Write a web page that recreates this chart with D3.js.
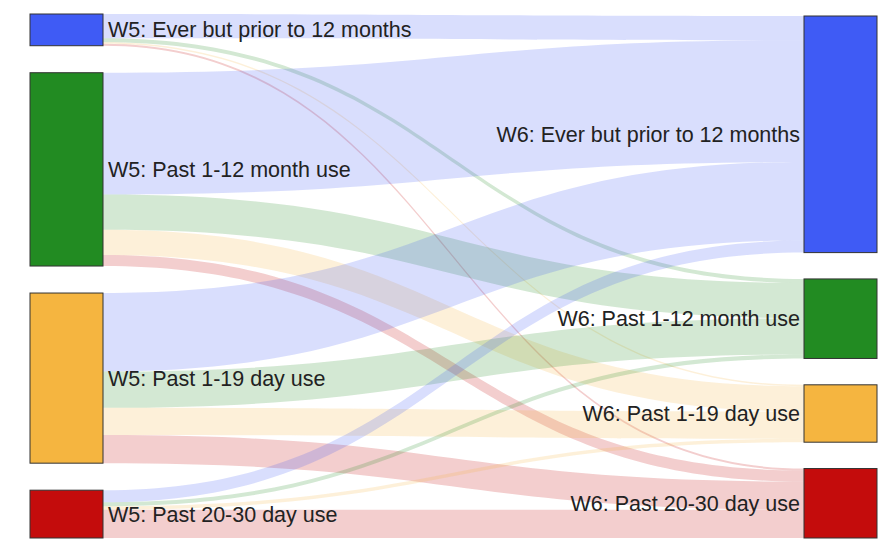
<!DOCTYPE html>
<html>
<head>
<meta charset="utf-8">
<script src="https://cdn.jsdelivr.net/npm/d3@7"></script>
<style>
  html, body { margin: 0; padding: 0; background: #fff; }
  svg { display: block; }
  text { font-family: "Liberation Sans", Arial, sans-serif; }
</style>
</head>
<body>
<svg id="chart" width="895" height="552"></svg>
<script>
// ---- data ----
const categories = ["Ever but prior to 12 months", "Past 1-12 month use", "Past 1-19 day use", "Past 20-30 day use"];
const sourceWave = "W5";
const targetWave = "W6";
const nodeColors = ["#3f5bf5", "#228b22", "#f5b540", "#c40c0c"];
// flows from each W5 category to W6 categories (in category order)
const fromEver       = [24, 4, 1.5, 2];
const fromPast1to12  = [121, 35, 25, 11];
const fromPast1to19  = [78, 36, 27, 28];
const fromPast20to30 = [12, 4, 3.5, 28];

// ---- layout ----
const flows = [fromEver, fromPast1to12, fromPast1to19, fromPast20to30];
const svg = d3.select("#chart");
const yTop = 14, yBottom = 538;
const nodeW = 73;
const colX = d3.scaleLinear().domain([0, 1]).range([30, 804]);
const color = d3.scaleOrdinal().domain(d3.range(categories.length)).range(nodeColors);

const srcTotals = flows.map(r => d3.sum(r));
const tgtTotals = categories.map((_, j) => d3.sum(flows, r => r[j]));
const total = d3.sum(srcTotals);
const pad = 27;
const k = (yBottom - yTop - pad * (categories.length - 1)) / total;
const vy = d3.scaleLinear().domain([0, total]).range([0, total * k]);

function buildColumn(totals, col, start, padding) {
  let y = start;
  return totals.map((v, i) => {
    const n = { i, col, value: v, x0: colX(col), x1: colX(col) + nodeW, y0: y, y1: y + vy(v) };
    y = n.y1 + padding;
    return n;
  });
}
const rightPad = (yBottom - 16 - vy(total)) / (categories.length - 1);
const leftNodes = buildColumn(srcTotals, 0, yTop, pad);
const rightNodes = buildColumn(tgtTotals, 1, 16, rightPad);

// links
const links = [];
flows.forEach((row, i) => row.forEach((v, j) => links.push({ s: i, t: j, value: v })));
const sOff = leftNodes.map(n => n.y0);
links.slice().sort((a, b) => a.s - b.s || a.t - b.t).forEach(l => {
  l.sy0 = sOff[l.s]; l.sy1 = l.sy0 + vy(l.value); sOff[l.s] = l.sy1;
});
const tOff = rightNodes.map(n => n.y0);
links.slice().sort((a, b) => a.t - b.t || a.s - b.s).forEach(l => {
  l.ty0 = tOff[l.t]; l.ty1 = l.ty0 + vy(l.value); tOff[l.t] = l.ty1;
});

function ribbon(l) {
  const x0 = leftNodes[l.s].x1, x1 = rightNodes[l.t].x0;
  const xm = (x0 + x1) / 2;
  const p = d3.path();
  p.moveTo(x0, l.sy0);
  p.bezierCurveTo(xm, l.sy0, xm, l.ty0, x1, l.ty0);
  p.lineTo(x1, l.ty1);
  p.bezierCurveTo(xm, l.ty1, xm, l.sy1, x0, l.sy1);
  p.closePath();
  return p.toString();
}

svg.append("g").selectAll("path").data(links).join("path")
  .attr("d", ribbon)
  .attr("fill", d => color(d.t))
  .attr("fill-opacity", 0.2);

const allNodes = leftNodes.concat(rightNodes);
svg.append("g").selectAll("rect").data(allNodes).join("rect")
  .attr("x", d => d.x0)
  .attr("y", d => d.y0)
  .attr("width", d => d.x1 - d.x0)
  .attr("height", d => d.y1 - d.y0)
  .attr("fill", d => color(d.i))
  .attr("stroke", "#333")
  .attr("stroke-width", 1);

svg.append("g").selectAll("text").data(allNodes).join("text")
  .attr("x", d => d.col === 0 ? d.x1 + 5 : d.x0 - 4)
  .attr("y", d => (d.y0 + d.y1) / 2)
  .attr("dy", "0.35em")
  .attr("text-anchor", d => d.col === 0 ? "start" : "end")
  .attr("font-size", "21.5px")
  .attr("fill", "#222")
  .text(d => (d.col === 0 ? sourceWave : targetWave) + ": " + categories[d.i]);
</script>
</body>
</html>
